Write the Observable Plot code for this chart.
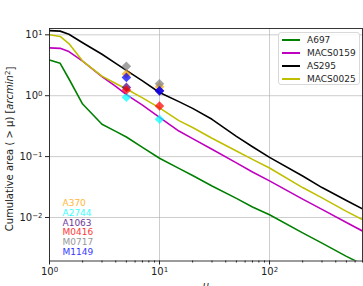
<!DOCTYPE html>
<html><head><meta charset="utf-8">
<script src="https://cdn.jsdelivr.net/npm/d3@7"></script>
<script src="https://cdn.jsdelivr.net/npm/@observablehq/plot@0.6"></script>
<style>
body{margin:0;background:#fff;font-family:"DejaVu Sans",sans-serif;}
#wrap{position:relative;width:363px;height:286px;overflow:hidden;background:#fff;}
.legend{position:absolute;left:278px;top:32px;width:82px;height:53px;border:1px solid #d9d9d9;border-radius:3px;background:rgba(255,255,255,0.85);box-sizing:border-box;font-size:9px;color:#262626;}
.legend .row{position:absolute;left:0;height:10px;line-height:10px;white-space:nowrap;}
.legend .sw{position:absolute;left:3px;top:4px;width:18px;height:2px;}
.legend .lb{position:absolute;left:28px;top:0;}
.ann{position:absolute;left:62.5px;font-size:9px;line-height:10px;white-space:nowrap;}
</style></head>
<body><div id="wrap"></div>
<script>
// curves: cumulative area (> mu)
const mu = [1, 1.25, 1.5, 2, 3, 4, 5, 7, 10, 15, 20, 30, 50, 70, 100, 200, 300, 500, 700];
const A697     = [3.87, 3.4, 1.9, 0.73, 0.34, 0.26, 0.21, 0.142, 0.094, 0.064, 0.049, 0.033, 0.0206, 0.0149, 0.0111, 0.0056, 0.0038, 0.0023, 0.0017];
const MACS0159 = [6.1, 6.0, 5.3, 3.7, 2.06, 1.42, 1.04, 0.70, 0.44, 0.263, 0.197, 0.132, 0.079, 0.056, 0.040, 0.020, 0.0136, 0.0083, 0.0060];
const AS295    = [11.7, 11.5, 10.2, 7.4, 4.8, 3.4, 2.6, 1.75, 1.13, 0.80, 0.62, 0.41, 0.215, 0.145, 0.097, 0.048, 0.031, 0.019, 0.0138];
const MACS0025 = [10.0, 9.4, 7.2, 3.7, 2.1, 1.59, 1.29, 0.92, 0.63, 0.39, 0.30, 0.20, 0.124, 0.09, 0.065, 0.031, 0.021, 0.0126, 0.0092];
const curveNames = ["A697", "MACS0159", "AS295", "MACS0025"];
const curveColors = ["#008000", "#bf00bf", "#000000", "#bfbf00"];

// diamond markers at mu = 5 and 10
const markerMu = [5, 10];
const A370  = [2.28, 1.41];
const A2744 = [0.94, 0.41];
const A1063 = [1.37, 1.2];
const M0416 = [1.24, 0.68];
const M0717 = [3.04, 1.57];
const M1149 = [2.0, 1.21];
const markerNames = ["A370", "A2744", "A1063", "M0416", "M0717", "M1149"];
const markerColors = ["orange", "cyan", "indigo", "red", "grey", "blue"];

const xMajor = [1, 10, 100];
const xMinor = [2,3,4,5,6,7,8,9,20,30,40,50,60,70,80,90,200,300,400,500,600,700];
const yMajor = [0.01, 0.1, 1, 10];
const xLabel = "μ";

const curveVals = [A697, MACS0159, AS295, MACS0025];
const lineRows = curveNames.flatMap((n, i) => mu.map((m, j) => ({name: n, color: curveColors[i], mu: m, v: curveVals[i][j]})));
const markerVals = [A370, A2744, A1063, M0416, M0717, M1149];
const markerRows = markerNames.flatMap((n, i) => markerMu.map((m, j) => ({name: n, color: markerColors[i], mu: m, v: markerVals[i][j]})));

const pow = d => "10^" + Math.round(Math.log10(d));

const chart = Plot.plot({
  width: 363, height: 286,
  marginLeft: 49, marginRight: 1, marginTop: 28, marginBottom: 25.5,
  x: {type: "log", domain: [1, 700]},
  y: {type: "log", domain: [0.00193, 12.7]},
  color: {type: "identity"},
  style: {fontFamily: "DejaVu Sans", fontSize: "10px", color: "#222", background: "#fff", overflow: "hidden"},
  marks: [
    Plot.gridX(xMajor, {stroke: "#b0b0b0", strokeOpacity: 0.8, strokeWidth: 0.8}),
    Plot.gridY(yMajor, {stroke: "#b0b0b0", strokeOpacity: 0.8, strokeWidth: 0.8}),
    Plot.line(lineRows, {x: "mu", y: "v", z: "name", stroke: "color", strokeWidth: 1.6, clip: true}),
    Plot.dot(markerRows, {x: "mu", y: "v", fill: "color", symbol: "diamond2", r: 4.3, fillOpacity: 0.72, stroke: "none"}),
    Plot.frame({stroke: "#222", strokeWidth: 0.9}),
    Plot.axisX(xMajor, {tickSize: 4, tickPadding: 3, tickFormat: pow, label: null}),
    Plot.axisX(xMinor, {tickSize: 2, tickFormat: () => "", label: null}),
    Plot.axisY(yMajor, {tickSize: 4, tickPadding: 3, tickFormat: pow, label: null})
  ]
});

const wrap = document.getElementById("wrap");
wrap.appendChild(chart);
const svg = d3.select(chart);

// superscript tick labels
svg.selectAll("text").each(function() {
  const t = this.textContent;
  const m = /^10\^(-?\d+)$/.exec(t);
  if (!m) return;
  const sel = d3.select(this);
  sel.text("");
  sel.append("tspan").text("10");
  sel.append("tspan").attr("dy", "-0.45em").attr("font-size", "7px").text(m[1].replace("-", "−"));
});

// y label
const yl = svg.append("text").attr("transform", "translate(12.5,149) rotate(-90)")
  .attr("text-anchor", "middle").attr("font-size", "10px").attr("fill", "#222");
yl.append("tspan").text("Cumulative area ( > μ) [");
yl.append("tspan").attr("font-style", "italic").text("arcmin");
yl.append("tspan").attr("dy", "-0.4em").attr("font-size", "7px").text("2");
yl.append("tspan").attr("dy", "0.4em").text("]");

// x label (cut by the bottom edge, as in the reference)
svg.append("text").attr("x", 206).attr("y", 289).attr("text-anchor", "middle")
  .attr("font-size", "10px").attr("font-style", "italic").attr("fill", "#222").text(xLabel);

// legend
const leg = document.createElement("div");
leg.className = "legend";
const rowTops = [2.3, 15.3, 28, 40.7];
curveNames.forEach((n, i) => {
  const r = document.createElement("div");
  r.className = "row";
  r.style.top = rowTops[i] + "px";
  const sw = document.createElement("span");
  sw.className = "sw";
  sw.style.background = curveColors[i];
  const lb = document.createElement("span");
  lb.className = "lb";
  lb.textContent = n;
  r.appendChild(sw); r.appendChild(lb);
  leg.appendChild(r);
});
wrap.appendChild(leg);

// cluster annotations
const annCenters = [203.3, 212.9, 222.6, 232.4, 242.1, 251.8];
markerNames.forEach((n, i) => {
  const d = document.createElement("div");
  d.className = "ann";
  d.style.top = (annCenters[i] - 5) + "px";
  d.style.color = markerColors[i];
  d.style.opacity = 0.8;
  d.textContent = n;
  wrap.appendChild(d);
});
</script>
</body></html>
